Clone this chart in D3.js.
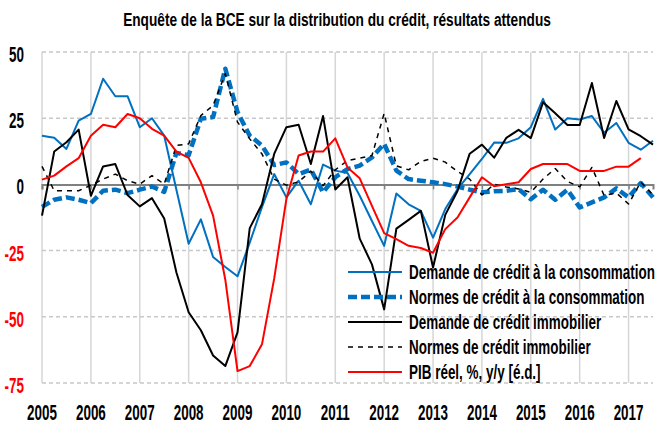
<!DOCTYPE html>
<html>
<head>
<meta charset="utf-8">
<script src="https://cdn.jsdelivr.net/npm/d3@7"></script>
<style>
  html, body { margin: 0; padding: 0; background: #fff; }
  svg { display: block; }
  text { font-family: "Liberation Sans", Arial, sans-serif; font-weight: bold; }
</style>
</head>
<body>
<svg id="chart" width="662" height="426"></svg>
<script>
// ---- Data (quarterly, 2005Q1 onward) ----
const startYear = 2005;
const yearTicks = [2005, 2006, 2007, 2008, 2009, 2010, 2011, 2012, 2013, 2014, 2015, 2016, 2017];
const yTicks = [50, 25, 0, -25, -50, -75];

const demandeConso = [18.4, 17.6, 13.4, 24.1, 26.6, 39.9, 33.3, 33.3, 21.6, 25.0, 18.4, -2, -22.4, -13.2, -27.4, -31.2, -34.7, -22, -8.6, 3.9, -4.9, 1.4, -7.5, 7.5, 5.2, 4.3, -4.3, -13.8, -23.2, -3.4, -7.5, -10, -20.1, -9.3, -1.8, 3.9, 9.6, 15.8, 15.7, 17.4, 21.6, 32.3, 20.7, 25, 24.5, 25.8, 19.5, 23.2, 15.7, 13.1, 16.5];
const normesConso = [-8.5, -5.8, -4.9, -5.8, -7.1, -2.4, -2, -3.3, -2, -0.8, -2.8, 11.9, 11.0, 24.8, 25.4, 43.7, 27.3, 18.4, 14.7, 7.3, 8.3, 3.9, 5.6, -3.0, 2.7, 5.8, 7.1, 10.2, 15.3, 5.2, 2.0, 1.4, 0.8, 0.1, -0.8, -2.0, -3.0, -2.6, -2.4, -1.8, -5.6, -2, -5.8, -2, -8.7, -6.8, -4.9, -1.5, -4.9, 0.5, -4.9];
const demandeImmo = [-11.8, 12.4, 15.9, 20.7, -4.3, 6.8, 7.7, -4.0, -8.3, -5.2, -12.9, -33.3, -48.3, -55.1, -64.6, -68.6, -55.9, -16.5, -7.5, 11.5, 21.6, 22.5, 7.7, 25.8, -1.9, 2.7, -20.5, -30.2, -47.2, -16.7, -13.4, -10, -31.4, -11.5, -2.5, 11.6, 15.0, 10.1, 17.6, 20.6, 17.5, 31, 26.9, 22.4, 22.4, 38.3, 17.5, 31.5, 20.8, 18.2, 15];
const normesImmo = [6.8, -2.4, -2.4, -2.4, -0.3, 2.0, 3.9, 1.4, 0.1, 3.3, 0.1, 14.7, 15.3, 26, 29.8, 41.8, 23.5, 17.2, 11.5, 2.0, -0.3, 1.0, 5.0, -0.5, 5.5, 9.0, 9.9, 10.9, 26.8, 7.0, 5.5, 8.7, 9.9, 8.4, 4.9, 2.0, -4.0, 0.1, -1.0, -1.7, -3.0, 2.0, 6.0, 1.1, -0.9, 6.4, -4.2, -3.2, -7.4, 0.9, -4];
const pibReel = [1.8, 3.3, 6.8, 9.9, 18.4, 22.5, 21.6, 26.6, 25.0, 21.0, 18.4, 12.4, 10.0, 0.8, -11.8, -36, -70.5, -68.6, -60.4, -35.6, -5.5, 10.9, 12.4, 12.4, 17.4, 6.4, 2.3, -8.1, -18.4, -20.7, -23.2, -24.0, -25.8, -16.9, -12.5, -4.9, 2.7, -0.7, 0.1, 0.8, 5.8, 7.7, 7.7, 7.7, 5.1, 5.1, 5.1, 6.7, 6.7, 9.9];

const seriesNames = [
  "Demande de crédit à la consommation",
  "Normes de crédit à la consommation",
  "Demande de crédit immobilier",
  "Normes de crédit immobilier",
  "PIB réel, %, y/y [é.d.]"
];
const title = "Enquête de la BCE sur la distribution du crédit, résultats attendus";

// ---- Styles ----
const styles = [
  { color: "#0070C0", width: 2, dash: null },
  { color: "#0070C0", width: 4.5, dash: "9,4" },
  { color: "#000000", width: 2, dash: null },
  { color: "#000000", width: 1.5, dash: "5,5" },
  { color: "#FF0000", width: 2, dash: null }
];
const seriesData = [demandeConso, normesConso, demandeImmo, normesImmo, pibReel];

const svg = d3.select("#chart");
const x = d3.scaleLinear().domain([2005, 2017.5]).range([42, 653]);
const y = d3.scaleLinear().domain([-75, 50]).range([383, 52]);

function stext(g, px, py, str, size, sx, anchor, color) {
  return g.append("text")
    .attr("transform", `translate(${px},${py}) scale(${sx},1)`)
    .attr("text-anchor", anchor)
    .attr("font-size", size)
    .attr("fill", color || "#000")
    .text(str);
}

// Grid
const grid = svg.append("g");
grid.selectAll("line.v").data(yearTicks).join("line")
  .attr("x1", d => x(d)).attr("x2", d => x(d))
  .attr("y1", y(50)).attr("y2", y(-75))
  .attr("stroke", "#d6d6d6").attr("stroke-width", 1.5);
grid.selectAll("line.h").data(yTicks.filter(d => d !== 0)).join("line")
  .attr("x1", x(2005)).attr("x2", x(2017.5))
  .attr("y1", d => y(d)).attr("y2", d => y(d))
  .attr("stroke", "#c8c8c8").attr("stroke-width", 1.5).attr("stroke-dasharray", "4,3");

// Zero axis with ticks
const xAxis = d3.axisBottom(x).tickValues(yearTicks).tickSize(5).tickFormat("");
const ax = svg.append("g").attr("transform", `translate(0,${y(0)})`).call(xAxis);
ax.select(".domain").attr("stroke", "#808080").attr("stroke-width", 2);
ax.selectAll(".tick line").attr("stroke", "#808080").attr("stroke-width", 1.5);

// Lines
const line = d3.line().x((d, i) => x(startYear + i / 4)).y(d => y(d));
seriesData.forEach((s, k) => {
  svg.append("path").datum(s)
    .attr("d", line)
    .attr("fill", "none")
    .attr("stroke", styles[k].color)
    .attr("stroke-width", styles[k].width)
    .attr("stroke-dasharray", styles[k].dash)
    .attr("stroke-linejoin", "round");
});

// Axis labels
const labels = svg.append("g");
yTicks.forEach(v => {
  stext(labels, 24, y(v) + 10, String(v), 22, 0.61, "end", v < 0 ? "#FF0000" : "#000");
});
yearTicks.forEach(v => {
  stext(labels, x(v), 420, String(v), 22, 0.61, "middle", "#000");
});

// Title
stext(svg, 337, 26, title, 19, 0.72, "middle", "#000");

// Legend
const leg = svg.append("g");
seriesNames.forEach((name, k) => {
  const by = 279 + k * 25;
  leg.append("line")
    .attr("x1", 348).attr("x2", 402)
    .attr("y1", by - 7).attr("y2", by - 7)
    .attr("stroke", styles[k].color)
    .attr("stroke-width", styles[k].width)
    .attr("stroke-dasharray", styles[k].dash);
  stext(leg, 409, by, name, 19.5, 0.69, "start", "#000");
});
</script>
</body>
</html>
